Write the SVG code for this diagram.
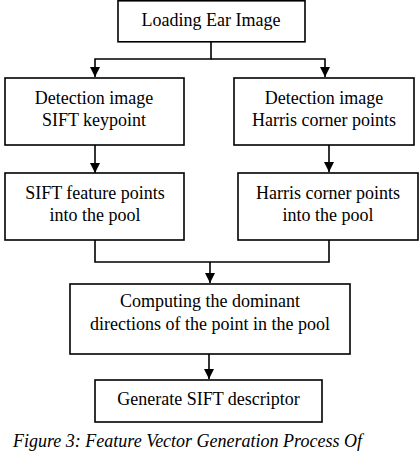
<svg xmlns="http://www.w3.org/2000/svg" width="420" height="452" viewBox="0 0 420 452">
<style>
.box{fill:#fff;stroke:#000;stroke-width:1.6}
.t{font-family:"Liberation Serif","Times New Roman",serif;font-size:18px;fill:#000;text-anchor:middle}
.c{fill:none;stroke:#000;stroke-width:1.6}
.cap{font-family:"Liberation Serif","Times New Roman",serif;font-size:18px;font-style:italic;fill:#000}
</style>
<defs>
<marker id="ah" markerWidth="10" markerHeight="10" refX="10" refY="5" orient="auto" markerUnits="userSpaceOnUse">
<path d="M0,0 L10,5 L0,10 Z" fill="#000"/>
</marker>
</defs>
<rect width="420" height="452" fill="#fff"/>
<g id="connectors">
<path class="c" d="M211,41 V59 H95 V77" marker-end="url(#ah)"/>
<path class="c" d="M211,59 H325 V77" marker-end="url(#ah)"/>
<path class="c" d="M95,145 V173" marker-end="url(#ah)"/>
<path class="c" d="M329,145 V172" marker-end="url(#ah)"/>
<path class="c" d="M95,240 V262 H329 V240"/>
<path class="c" d="M210,262 V283" marker-end="url(#ah)"/>
<path class="c" d="M209,354 V379" marker-end="url(#ah)"/>
</g>
<g id="n1">
<rect class="box" x="118" y="0.8" width="187" height="41"/>
<text class="t" x="211" y="26">Loading Ear Image</text>
</g>
<g id="n2">
<rect class="box" x="5" y="78" width="179" height="67"/>
<text class="t" x="94" y="104">Detection image</text>
<text class="t" x="94" y="126">SIFT keypoint</text>
</g>
<g id="n3">
<rect class="box" x="234" y="78" width="180" height="67"/>
<text class="t" x="324" y="104">Detection image</text>
<text class="t" x="324" y="126">Harris corner points</text>
</g>
<g id="n4">
<rect class="box" x="5" y="173" width="179" height="67"/>
<text class="t" x="95" y="199">SIFT feature points</text>
<text class="t" x="95" y="221">into the pool</text>
</g>
<g id="n5">
<rect class="box" x="238" y="173" width="180" height="67"/>
<text class="t" x="328" y="199">Harris corner points</text>
<text class="t" x="328" y="221">into the pool</text>
</g>
<g id="n6">
<rect class="box" x="70" y="284" width="280" height="70"/>
<text class="t" x="210" y="307">Computing the dominant</text>
<text class="t" x="210" y="330">directions of the point in the pool</text>
</g>
<g id="n7">
<rect class="box" x="95" y="380" width="227" height="42"/>
<text class="t" x="208.5" y="405">Generate SIFT descriptor</text>
</g>
<text class="cap" x="13" y="447">Figure 3: Feature Vector Generation Process Of</text>
</svg>
